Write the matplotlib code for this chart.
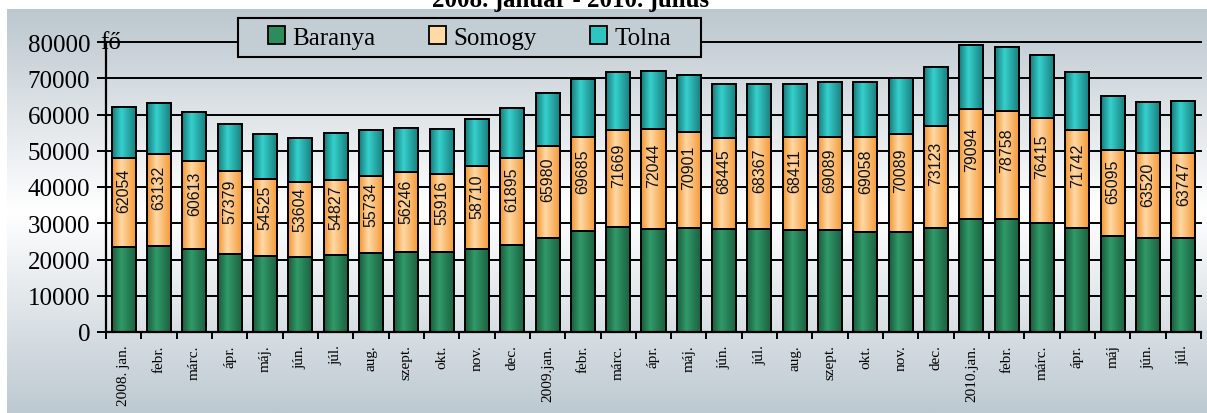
import numpy as np
import matplotlib.pyplot as plt
from matplotlib.colors import LinearSegmentedColormap
from matplotlib.patches import Rectangle, Patch

plt.rcParams['font.family'] = 'Liberation Serif'

# month labels, 2008 jan - 2010 jul
months = ["2008. jan.", "febr.", "márc.", "ápr.", "máj.", "jún.", "júl.", "aug.",
          "szept.", "okt.", "nov.", "dec.",
          "2009.jan.", "febr.", "márc.", "ápr.", "máj.", "jún.", "júl.", "aug.",
          "szept.", "okt.", "nov.", "dec.",
          "2010.jan.", "febr.", "márc.", "ápr.", "máj", "jún.", "júl."]

# (fő)
baranya = [23450, 23700, 22800, 21630, 20970, 20800, 21160, 21900, 21990, 22180, 22810, 24110,
           25930, 27780, 28970, 28330, 28800, 28520, 28330, 28140, 28140, 27700, 27590, 28800,
           31090, 31280, 30180, 28800, 26480, 25850, 26040]
somogy = [24660, 25320, 24290, 22890, 21240, 20690, 20770, 21240, 22070, 21520, 22990, 23890,
          25380, 26120, 26670, 27780, 26370, 25110, 25470, 25560, 25760, 26200, 26950, 28030,
          30340, 29690, 28960, 26920, 23730, 23450, 23450]
osszesen = [62054, 63132, 60613, 57379, 54525, 53604, 54827, 55734, 56246, 55916, 58710, 61895,
            65980, 69685, 71669, 72044, 70901, 68445, 68367, 68411, 69089, 69058, 70089, 73123,
            79094, 78758, 76415, 71742, 65095, 63520, 63747]
tolna = [t - b - s for t, b, s in zip(osszesen, baranya, somogy)]

series = ["Baranya", "Somogy", "Tolna"]
shades = {  # edge, light centre
    "Baranya": ("#1b5c3d", "#309a69"),
    "Somogy": ("#f39530", "#ffd9a6"),
    "Tolna": ("#187a7b", "#35d0cc"),
}

W, H = 1207, 414
fig = plt.figure(figsize=(W / 100, H / 100), dpi=100)

# background gradient of the chart area
bg = fig.add_axes([7 / W, 0, 1 - 7 / W, (H - 10) / H])
bg_cmap = LinearSegmentedColormap.from_list("bg", [(0, "#bcc7cf"), (0.5, "#ffffff"), (1, "#bdc9d1")])
bg.imshow(np.linspace(0, 1, 256).reshape(-1, 1), aspect="auto", cmap=bg_cmap, extent=(0, 1, 0, 1))
bg.axis("off")

ax = fig.add_axes([106 / W, (H - 333) / H, (1201 - 106) / W, (333 - 43) / H])
ax.patch.set_alpha(0)

x = np.arange(len(months))
bottoms = [np.zeros(len(x)), np.array(baranya), np.add(baranya, somogy)]
values = [baranya, somogy, tolna]

for name, vals, bot in zip(series, values, bottoms):
    bars = ax.bar(x, vals, bottom=bot, width=0.68, color="none", edgecolor="black", lw=1.4, zorder=3)
    edge, light = shades[name]
    cm = LinearSegmentedColormap.from_list(name, [(0, edge), (0.38, light), (1, edge)])
    for p in bars.patches:
        ax.imshow(np.linspace(0, 1, 64).reshape(1, -1), cmap=cm, aspect="auto", interpolation="bilinear",
                  extent=(p.get_x(), p.get_x() + p.get_width(), p.get_y(), p.get_y() + p.get_height()),
                  zorder=2.5)

# totals written inside the Somogy part
for i in range(len(x)):
    ax.text(x[i], baranya[i] + 0.64 * somogy[i], str(osszesen[i]), rotation=90, ha="center", va="center",
            fontsize=11.5, family="Liberation Sans", color="#111111", zorder=5)

ax.set_xlim(-0.5, len(x) - 0.5)
ax.set_ylim(0, 80000)
ax.set_yticks(range(0, 80001, 10000))
ax.set_xticks(x)
ax.set_xticklabels(months, rotation=90, fontsize=11, va="top", ha="center")
ax.set_xticks(np.arange(-0.5, len(x), 1), minor=True)
ax.tick_params(axis="x", which="major", length=0, pad=9)
ax.tick_params(axis="x", which="minor", length=5, width=1.4, direction="out")
ax.tick_params(axis="y", length=6.5, width=1.4, labelsize=18, pad=5)

ax.yaxis.grid(True, color="black", lw=1.4)
for gl in ax.yaxis.get_gridlines():
    gl.set_clip_on(False)
ax.set_axisbelow(True)
for s in ["top", "right"]:
    ax.spines[s].set_visible(False)
for s in ["left", "bottom"]:
    ax.spines[s].set_linewidth(1.6)

ax.annotate("fő", xy=(0, 1), xycoords="axes fraction", xytext=(3.5, 0), textcoords="offset points",
            ha="center", va="center", fontsize=18)

# title sits mostly above the top edge, as in the original
fig.text(571 / W, 1 - 7 / H, "2008. január - 2010. július", ha="center", va="baseline",
         fontsize=18, fontweight="bold")

# legend box
fig.patches.append(Rectangle((238 / W, (H - 58) / H), (701 - 238) / W, 39 / H, transform=fig.transFigure,
                             facecolor="#c3cdd4", edgecolor="black", lw=1.5, zorder=5))
handles = [Patch(facecolor=shades[n][1], edgecolor="black", lw=1.3) for n in series]
handles[0].set_facecolor("#2e8b5e")
handles[2].set_facecolor("#2ec4c2")
leg = fig.legend(handles, series, loc="center", bbox_to_anchor=(469.5 / W, 1 - 38.5 / H), ncol=3,
                 frameon=False, fontsize=18, handlelength=0.68, handleheight=0.68,
                 handletextpad=0.28, columnspacing=2.16)
leg.set_zorder(6)

fig.savefig("out.png", dpi=100)
